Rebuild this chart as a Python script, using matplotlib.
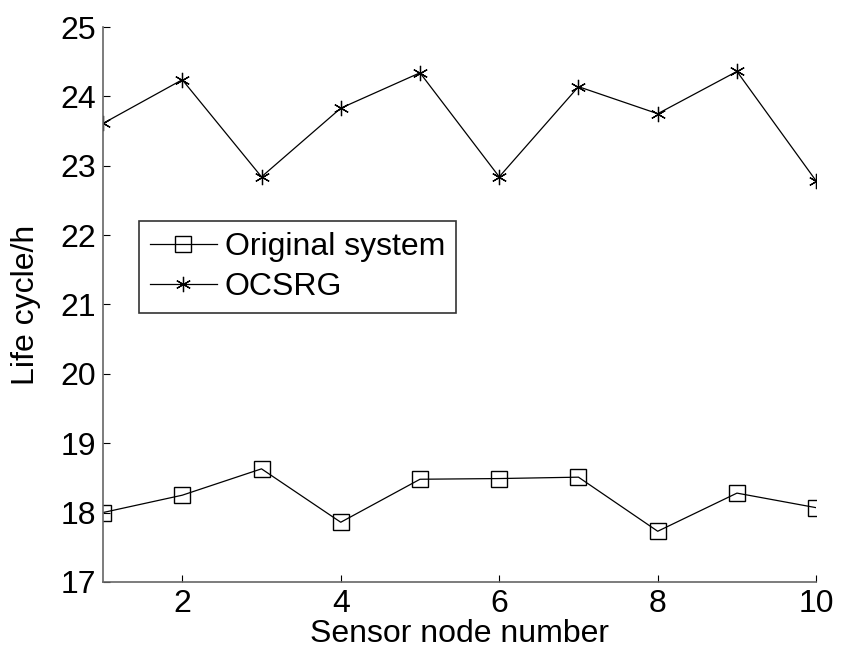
import matplotlib.pyplot as plt
import numpy as np

plt.rcParams['font.family'] = ['Liberation Sans', 'DejaVu Sans']

nodes = np.arange(1, 11)
original = [18.0, 18.25, 18.63, 17.86, 18.48, 18.49, 18.51, 17.73, 18.28, 18.07]
ocsrg = [23.61, 24.24, 22.84, 23.83, 24.34, 22.84, 24.14, 23.75, 24.36, 22.78]

fig = plt.figure(figsize=(8.41, 6.59), dpi=100)
ax = fig.add_axes([0.1225, 0.117, 0.848, 0.842])

ax.plot(nodes, original, color='black', lw=0.9, marker='s', markersize=11,
        markerfacecolor='none', markeredgewidth=1.0, label='Original system')
# asterisk marker like matlab '*'
ax.plot(nodes, ocsrg, color='black', lw=0.9, marker=(6, 2, 0), markersize=11,
        markeredgewidth=0.9, label='OCSRG')

ax.set_xlim(1, 10)
ax.set_ylim(17, 25)
ax.set_xticks([2, 4, 6, 8, 10])
ax.set_yticks(range(17, 26))
ax.tick_params(direction='in', labelsize=23, length=5, colors='black', pad=5)
for s in ['top', 'right']:
    ax.spines[s].set_visible(False)
for s in ['left', 'bottom']:
    ax.spines[s].set_color('#666666')
    ax.spines[s].set_linewidth(1.2)

ax.set_xlabel('Sensor node number', fontsize=23, labelpad=0)
ax.set_ylabel('Life cycle/h', fontsize=23, labelpad=14)

leg = ax.legend(loc='upper left', bbox_to_anchor=(0.05, 0.65), fontsize=23,
                frameon=True, fancybox=False, edgecolor='black',
                handlelength=2.1, handletextpad=0.25, borderpad=0.35,
                labelspacing=0.3, borderaxespad=0)
leg.get_frame().set_linewidth(1.2)

fig.savefig('out.png', dpi=100)
